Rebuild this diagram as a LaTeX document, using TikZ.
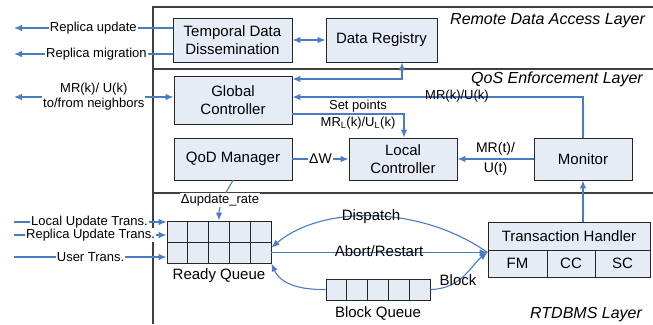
\documentclass[tikz,border=0pt]{standalone}
\usepackage{fontspec}
\setmainfont{Liberation Sans}
\usetikzlibrary{arrows.meta,calc}
\definecolor{fillb}{HTML}{E6ECF6}
\definecolor{lineb}{HTML}{4A7CC4}
\definecolor{framec}{HTML}{404040}
\begin{document}
\begin{tikzpicture}[x=1pt,y=-1pt,
  box/.style={draw=black!85,line width=0.9pt,fill=fillb,inner sep=0pt,align=center,font=\fontsize{15}{18}\selectfont},
  cell/.style={draw=black!85,line width=0.9pt,fill=fillb,inner sep=0pt,minimum width=20.8pt,minimum height=21pt},
  arr/.style={draw=lineb,line width=1.1pt,-{Latex[length=8pt,width=6.5pt]}},
  darr/.style={draw=lineb,line width=1.1pt,{Latex[length=8pt,width=6.5pt]}-{Latex[length=8pt,width=6.5pt]}},
  side/.style={font=\fontsize{13}{15}\selectfont,fill=white,inner sep=1pt,align=center},
  lbl/.style={font=\fontsize{13}{15}\selectfont,inner sep=1pt,align=center},
  big/.style={font=\fontsize{15}{17}\selectfont,inner sep=1pt,align=center},
  layer/.style={font=\fontsize{16}{18}\selectfont\itshape,anchor=west,inner sep=0pt},
  frm/.style={draw=framec,line width=1.2pt}]

\useasboundingbox (0,0) rectangle (653,324);

% layer frame
\draw[frm] (653,7) -- (153,7) -- (153,324);
\draw[frm] (153,69) -- (653,69);
\draw[frm] (153,193) -- (653,193);

% layer titles
\node[layer] (l1) at (450,21) {Remote Data Access Layer};
\node[layer] (l2) at (471,79) {QoS Enforcement Layer};
\node[layer] (l3) at (530,315) {RTDBMS Layer};

% boxes
\node[box,minimum width=119pt,minimum height=44pt] (tdd) at (232.5,40) {Temporal Data\\Dissemination};
\node[box,minimum width=111pt,minimum height=44pt] (dr) at (381.5,40) {Data Registry};
\node[box,minimum width=118pt,minimum height=48pt] (gc) at (233,100) {Global\\Controller};
\node[box,minimum width=118pt,minimum height=42pt] (qod) at (233,159) {QoD Manager};
\node[box,minimum width=108pt,minimum height=42pt] (lc) at (403,159) {Local\\Controller};
\node[box,minimum width=98pt,minimum height=42pt] (mon) at (583,159) {Monitor};

% transaction handler
\node[box,minimum width=162pt,minimum height=28pt] (th) at (569,236) {Transaction Handler};
\node[box,minimum width=59pt,minimum height=27pt] (fm) at (517.5,263.5) {FM};
\node[box,minimum width=48pt,minimum height=27pt] (cc) at (571,263.5) {CC};
\node[box,minimum width=55pt,minimum height=27pt] (sc) at (622.5,263.5) {SC};

% queues
\foreach \i in {0,...,4} {
  \node[cell] (rqa\i) at (177.4+20.8*\i,231.5) {};
  \node[cell] (rqb\i) at (177.4+20.8*\i,252.5) {};
  \node[cell] (bq\i) at (336.4+20.8*\i,289.5) {};
}
\node[big] (rql) at (219,276) {Ready Queue};
\node[big] (bql) at (378,313) {Block Queue};

% left side connectors
\coordinate (ru) at (14,28);
\coordinate (rm) at (14,54);
\coordinate (nb) at (14,97);
\draw[arr] (tdd.west |- ru) -- node[side,pos=0.5]{Replica update} (ru);
\draw[arr] (tdd.west |- rm) -- node[side,pos=0.48]{Replica migration} (rm);
\draw[darr] (nb) -- node[side,pos=0.5]{MR(k)/ U(k)\\to/from neighbors} (gc.west |- nb);

\coordinate (lu) at (14,222);
\coordinate (rp) at (14,235);
\coordinate (ut) at (14,257);
\draw[arr] (lu) -- node[side,pos=0.495]{Local Update Trans.} (rqa0.west |- lu);
\draw[arr] (rp) -- node[side,pos=0.502]{Replica Update Trans.} (rqa0.west |- rp);
\draw[arr] (ut) -- node[side,pos=0.502]{User Trans.} (rqa0.west |- ut);

% top connectors
\draw[darr] (tdd) -- (dr);
\coordinate (c1) at (402,79);
\draw[darr] (gc.east |- c1) -- (c1) -- (dr.south -| c1);
\coordinate (c2) at (583,97);
\draw[arr] (mon.north) -- (c2) -- (gc.east |- c2);
\node[lbl] (mrk) at (457,96.5) {MR(k)/U(k)};
\coordinate (c3) at (404,114);
\draw[arr] (gc.east |- c3) -- (c3) -- (lc.north -| c3);
\node[lbl] (sp) at (358,106) {Set points};
\node[lbl] (mrl) at (358,123.5) {MR\textsubscript{L}(k)/U\textsubscript{L}(k)};
\draw[arr] (qod) -- node[side,font=\fontsize{14}{16}\selectfont]{ΔW} (lc);
\draw[arr] (mon) -- node[big,font=\fontsize{14}{20}\selectfont]{MR(t)/\\U(t)} (lc);
\draw[arr] (mon.south |- th.north) -- (mon.south);

% RTDBMS connectors
\draw[arr] (qod.south) .. controls (226,192) and (219,205) .. (rqa2.north);
\node[side] (dur) at (220,200) {Δupdate\_rate};
\coordinate (thw) at (fm.west |- rqb4.east);
\draw[arr] (thw) .. controls (420,205) and (322,205) .. ($(rqb4.east)+(0,-5)$);
\node[big] (dsp) at (371,217) {Dispatch};
\draw[arr] (rqb4.east) -- (thw);
\node[big] (ab) at (379,251.5) {Abort/Restart};
\draw[arr] (bq4.east) .. controls (462,289) and (472,264) .. (thw);
\node[big] (blk) at (458,280) {Block};
\draw[arr] (bq0.west) .. controls (294,290) and (279,281) .. (rqb4.south east);
\end{tikzpicture}
\end{document}
